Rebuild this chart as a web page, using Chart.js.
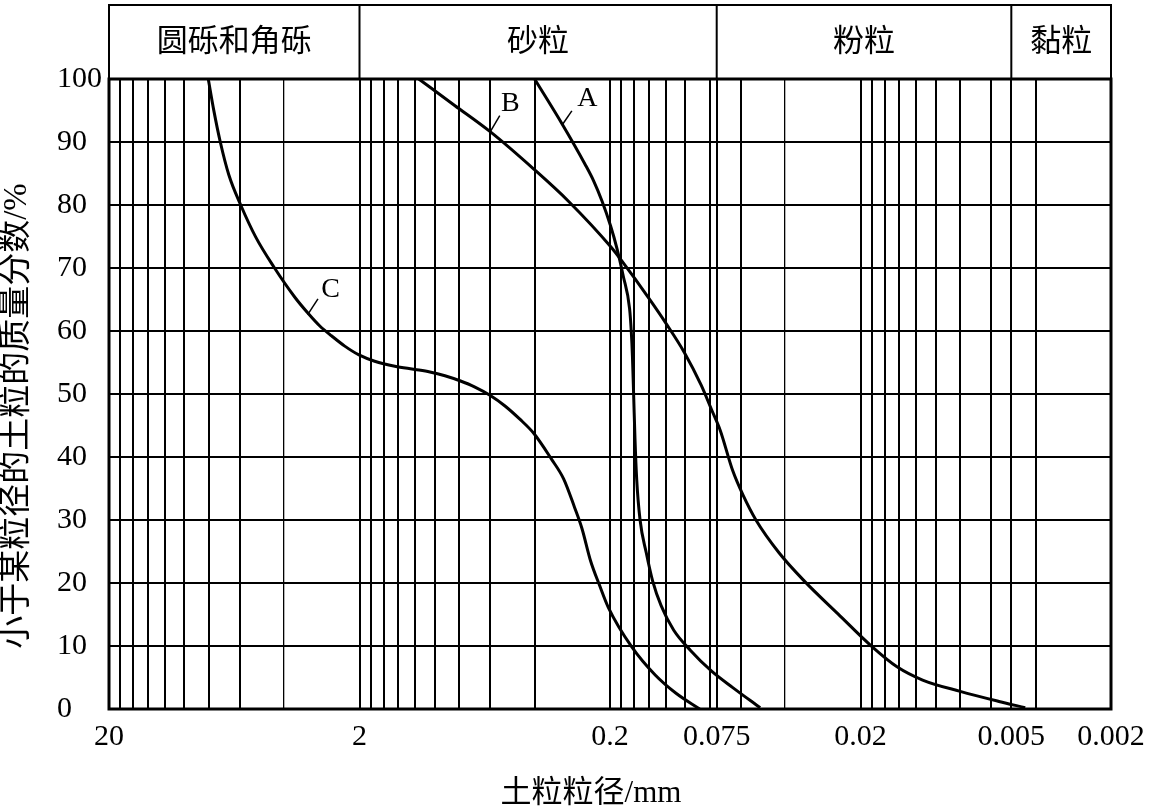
<!DOCTYPE html>
<html><head><meta charset="utf-8">
<script src="https://cdn.jsdelivr.net/npm/chart.js@4.4.1/dist/chart.umd.min.js"></script>
<style>html,body{margin:0;padding:0;background:#fff;}canvas{display:block;}</style>
</head><body>
<canvas id="c" width="1152" height="808"></canvas>
<script>
// ---- data ----
const gridSizes = [20,18,16,14,12,10,8,6,4,2,
  1.8,1.6,1.4,1.2,1,0.8,0.6,0.4,0.2,
  0.18,0.16,0.14,0.12,0.1,0.08,0.075,0.06,0.04,0.02,
  0.018,0.016,0.014,0.012,0.01,0.008,0.006,0.005,0.004,0.002];
const thinGridSizes = [4, 0.04];
const tickLabelValues = [20, 2, 0.2, 0.075, 0.02, 0.005, 0.002];
const tickLabelTexts = ['20', '2', '0.2', '0.075', '0.02', '0.005', '0.002'];
const yTicks = [0,10,20,30,40,50,60,70,80,90,100];
const zoneNames = ['圆砾和角砾', '砂粒', '粉粒', '黏粒'];
const zoneBounds = [20, 2, 0.075, 0.005, 0.002];

const sizesA = [0.400,0.311,0.251,0.2323,0.2151,0.199,0.1879,0.177,0.1671,0.1644,0.1627,0.1608,0.159,0.1565,0.1517,0.1433,0.1351,0.125,0.1113,0.0954,0.0786,0.0647,0.0503];
const pctA   = [100,92.9,86.4,83.8,80.6,76.7,73.2,68.7,63.6,59.8,55.9,49.4,43.0,36.5,30.0,24.8,20.3,16.4,12.5,9.3,6.0,3.4,0.2];

const sizesB = [1.16,0.834,0.600,0.403,0.293,0.199,0.177,0.1405,0.119,0.101,0.0865,0.0786,0.0727,0.0647,0.0588,0.0523,0.0423,0.0335,0.0246,0.0180,0.0143,0.0113,0.0080,0.0056,0.0044];
const pctB   = [100,95.8,91.6,85.7,80.6,73.4,70.8,65.3,61.1,56.6,51.4,47.5,44.3,37.8,33.9,30.0,24.8,20.3,15.1,9.9,6.7,4.6,2.8,1.2,0.2];

const sizesC = [8.03,7.64,7.19,6.65,5.96,5.19,4.40,3.63,3.19,2.88,2.58,2.29,2.01,1.74,1.445,1.20,1.047,0.912,0.795,0.692,0.603,0.525,0.458,0.404,0.343,0.306,0.277,0.259,0.239,0.220,0.203,0.164,0.132,0.109,0.0877];
const pctC   = [100,95.1,90.0,84.8,80.0,74.9,70.2,65.4,62.7,60.8,59.2,57.6,56.2,55.2,54.4,53.9,53.5,52.9,52.1,51.1,49.8,48.1,46.0,43.8,39.7,36.5,32.0,28.7,23.5,19.6,16.1,9.9,5.4,2.5,0];

const curveNames = ['A', 'B', 'C'];
const curveLabelSize = [0.246, 0.50, 2.61];
const curveLabelPct  = [96.9, 96.1, 66.6];
const leaderFromSize = [0.3106, 0.600, 3.22];
const leaderFromPct  = [92.7, 91.7, 62.6];
const leaderToSize   = [0.284, 0.551, 2.93];
const leaderToPct    = [94.95, 94.2, 65.1];

const xTitle = '土粒粒径/mm';
const yTitle = '小于某粒径的土粒的质量分数/%';

// ---- helpers ----
const SERIF = "'Liberation Serif','Times New Roman','Noto Sans CJK SC',serif";
const CJK = "'Liberation Serif','Noto Sans CJK SC',sans-serif";
const near = (a, b) => Math.abs(a - b) / b < 1e-6;
const toPts = (xs, ys) => xs.map((v, i) => ({x: v, y: ys[i]}));

const annotatePlugin = {
  id: 'soilAnnotate',
  afterDraw(chart) {
    const {ctx, chartArea: ca, scales: {x, y}} = chart;
    const headTop = 5;
    ctx.save();
    ctx.strokeStyle = '#000';
    ctx.fillStyle = '#000';
    // header table
    ctx.lineWidth = 2;
    ctx.beginPath();
    ctx.moveTo(ca.left, ca.top); ctx.lineTo(ca.left, headTop);
    ctx.lineTo(ca.right, headTop); ctx.lineTo(ca.right, ca.top);
    for (let i = 1; i < zoneBounds.length - 1; i++) {
      const px = x.getPixelForValue(zoneBounds[i]);
      ctx.moveTo(px, headTop); ctx.lineTo(px, ca.top);
    }
    ctx.stroke();
    ctx.font = "31px " + CJK;
    ctx.textAlign = 'center';
    ctx.textBaseline = 'middle';
    zoneNames.forEach((n, i) => {
      const cx = (x.getPixelForValue(zoneBounds[i]) + x.getPixelForValue(zoneBounds[i + 1])) / 2;
      ctx.fillText(n, cx, (headTop + ca.top) / 2 + 1);
    });
    // axis titles
    ctx.font = "31px " + CJK;
    ctx.fillText(xTitle, 591, 794);
    ctx.save();
    ctx.translate(17, 416);
    ctx.rotate(-Math.PI / 2);
    ctx.font = "33px " + CJK;
    ctx.fillText(yTitle, 0, 0);
    ctx.restore();
    // plot frame
    ctx.lineWidth = 3;
    ctx.strokeRect(ca.left, ca.top, ca.right - ca.left, ca.bottom - ca.top);
    // curve labels
    ctx.lineWidth = 1.5;
    ctx.font = "28px " + SERIF;
    curveNames.forEach((n, i) => {
      ctx.beginPath();
      ctx.moveTo(x.getPixelForValue(leaderFromSize[i]), y.getPixelForValue(leaderFromPct[i]));
      ctx.lineTo(x.getPixelForValue(leaderToSize[i]), y.getPixelForValue(leaderToPct[i]));
      ctx.stroke();
      ctx.fillText(n, x.getPixelForValue(curveLabelSize[i]), y.getPixelForValue(curveLabelPct[i]));
    });
    ctx.restore();
  }
};

const lineStyle = {showLine: true, borderColor: '#000', backgroundColor: '#000', borderWidth: 3, pointRadius: 0, cubicInterpolationMode: 'monotone', fill: false};

new Chart(document.getElementById('c'), {
  type: 'scatter',
  data: {
    datasets: [
      Object.assign({label: curveNames[0], data: toPts(sizesA, pctA)}, lineStyle),
      Object.assign({label: curveNames[1], data: toPts(sizesB, pctB)}, lineStyle),
      Object.assign({label: curveNames[2], data: toPts(sizesC, pctC)}, lineStyle)
    ]
  },
  options: {
    responsive: false,
    animation: false,
    devicePixelRatio: 1,
    layout: {padding: {top: 79, right: 41, bottom: 0, left: 57}},
    plugins: {legend: {display: false}, tooltip: {enabled: false}},
    scales: {
      x: {
        type: 'logarithmic',
        position: 'bottom',
        reverse: true,
        min: 0.002,
        max: 20,
        afterBuildTicks: (s) => { s.ticks = gridSizes.map(v => ({value: v})); },
        afterFit: (s) => { s.height = 99; s.paddingLeft = 0; s.paddingRight = 0; },
        grid: {
          color: '#000',
          drawTicks: false,
          lineWidth: (c) => (c.tick && thinGridSizes.some(t => near(c.tick.value, t))) ? 1.3 : 2
        },
        border: {display: false},
        ticks: {
          autoSkip: false, maxRotation: 0, minRotation: 0, padding: 10, color: '#000',
          font: {family: SERIF, size: 30, lineHeight: 1.2},
          callback: (v) => {
            const k = tickLabelValues.findIndex(t => near(v, t));
            return k >= 0 ? tickLabelTexts[k] : '';
          }
        }
      },
      y: {
        type: 'linear',
        position: 'left',
        min: 0,
        max: 100,
        afterBuildTicks: (s) => { s.ticks = yTicks.map(v => ({value: v})); },
        afterFit: (s) => { s.width = 52; },
        grid: {color: '#000', lineWidth: 2, drawTicks: false},
        border: {display: false},
        ticks: {crossAlign: 'far', color: '#000', padding: 0, font: {family: SERIF, size: 30, lineHeight: 1.2}}
      }
    }
  },
  plugins: [annotatePlugin]
});
</script>
</body></html>
